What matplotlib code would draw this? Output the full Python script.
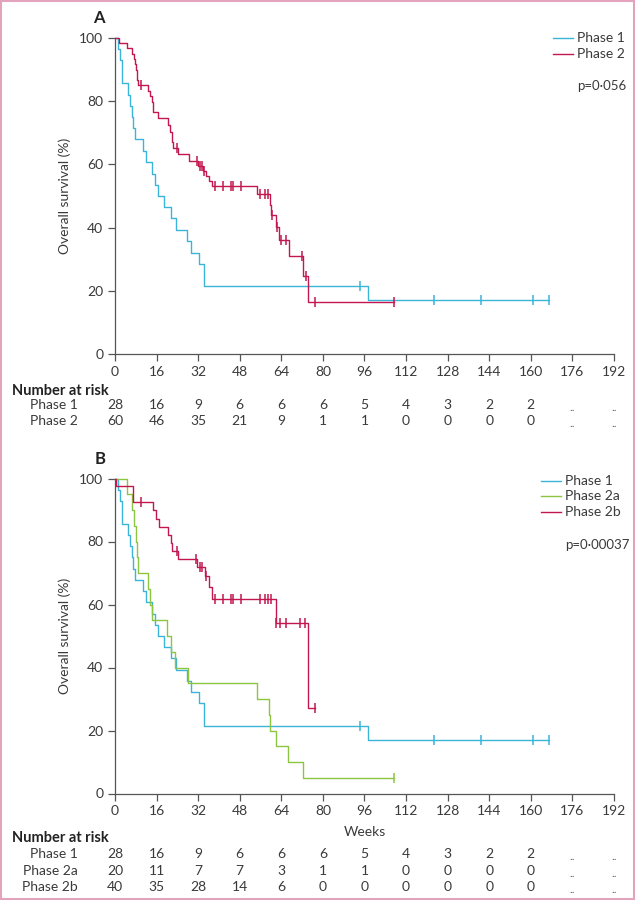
import numpy as np
import matplotlib.pyplot as plt
from matplotlib.patches import Rectangle
from matplotlib.lines import Line2D
from matplotlib.transforms import blended_transform_factory

plt.rcParams['font.family'] = ['Lato', 'DejaVu Sans']

# ---- data (weeks, overall survival %) ----
# Phase 1 (same curve in both panels)
p1_t = [1.3, 1.9, 2.6, 5.1, 5.8, 6.4, 7.0, 7.7, 10.9, 11.9, 14.3, 15.4, 16.4, 18.9,
        21.5, 23.4, 27.8, 29.1, 32.4, 34.3, 97.3]
p1_s = [96.4, 92.9, 85.7, 82.1, 78.6, 75.0, 71.4, 67.9, 64.3, 60.7, 57.1, 53.6, 50.0, 46.4,
        42.9, 39.3, 35.7, 32.1, 28.6, 21.4, 17.1]
p1_cens = [94.1, 122.6, 140.8, 161.0, 167.0]

# Phase 2 (panel A)
p2_t = [1.5, 4.7, 6.7, 7.2, 7.6, 8.0, 8.3, 8.6, 8.9, 12.8, 13.4, 14.1, 14.7, 16.6,
        20.5, 21.1, 21.8, 22.4, 24.3, 28.4, 31.8, 34.0, 35.0, 36.2, 37.2, 54.8,
        59.6, 60.0, 62.1, 63.0, 66.9, 72.3, 74.2]
p2_s = [98.3, 96.7, 95.0, 93.3, 91.7, 90.0, 88.3, 86.7, 85.0, 83.3, 81.6, 79.9, 76.5, 74.8,
        72.5, 70.4, 67.2, 65.1, 63.2, 61.0, 59.6, 58.0, 56.3, 54.7, 53.1, 50.6,
        47.2, 43.9, 40.2, 36.2, 31.0, 24.6, 16.6]
p2_cens = [10.0, 23.7, 31.4, 32.8, 33.4, 34.4, 38.4, 41.6, 44.8, 45.4, 48.4, 55.7, 57.6,
           58.9, 60.6, 62.4, 64.0, 65.9, 71.9, 73.6, 76.8, 107.3]

# Phase 2a (panel B)
p2a_t = [4.5, 6.7, 7.4, 7.9, 8.3, 8.7, 12.8, 13.4, 14.1, 20.1, 21.5, 23.0, 27.9,
         54.8, 59.3, 59.6, 62.1, 66.6, 72.3]
p2a_s = [95, 90, 85, 80, 75, 70, 65, 60, 55, 50, 45, 40, 35,
         30, 25, 20, 15, 10, 5]
p2a_cens = [107.3]

# Phase 2b (panel B)
p2b_t = [0.5, 6.8, 7.0, 14.7, 15.6, 17.0, 20.5, 21.5, 22.1, 24.3, 31.6, 34.8, 36.1, 37.4,
         61.8, 74.2]
p2b_s = [97.5, 95.0, 92.5, 90.0, 87.3, 84.7, 82.0, 79.4, 77.0, 74.5, 71.8, 68.9, 65.4, 61.9,
         54.2, 27.1]
p2b_cens = [10.0, 23.7, 31.2, 32.8, 33.6, 35.2, 38.4, 41.6, 44.8, 45.4, 48.4, 55.7, 57.6,
            58.9, 60.2, 62.1, 63.4, 65.9, 71.0, 73.0, 76.8]

week_ticks = list(range(0, 193, 16))
risk_p1 = ["28", "16", "9", "6", "6", "6", "5", "4", "3", "2", "2", "..", ".."]
risk_p2 = ["60", "46", "35", "21", "9", "1", "1", "0", "0", "0", "0", "..", ".."]
risk_p2a = ["20", "11", "7", "7", "3", "1", "1", "0", "0", "0", "0", "..", ".."]
risk_p2b = ["40", "35", "28", "14", "6", "0", "0", "0", "0", "0", "0", "..", ".."]

c_p1 = "#3ab4d8"
c_p2 = "#c2174f"
c_p2a = "#8cc540"
txt = "#3a3a3a"
axc = "#555555"

W, H = 636, 906
fig = plt.figure(figsize=(W / 100, H / 100), dpi=100)


def fy(py):
    return 1 - py / H


def km(ax, t, s, cens, color, z):
    tt = np.r_[0, t]
    ss = np.r_[100, s]
    tend = max(max(cens), tt[-1])
    ax.step(np.r_[tt, tend], np.r_[ss, ss[-1]], where='post', color=color,
            lw=1.0, clip_on=False, zorder=z)
    idx = np.searchsorted(tt, cens, side='right') - 1
    ax.plot(cens, ss[idx], ls='none', marker='|', ms=7, mew=1.1, color=color,
            clip_on=False, zorder=z)


def style_axis(ax, xlabel=None):
    ax.set_xlim(0, 192)
    ax.set_ylim(0, 100)
    ax.set_xticks(week_ticks)
    ax.set_yticks(range(0, 101, 20))
    for sp in ['top', 'right']:
        ax.spines[sp].set_visible(False)
    for sp in ['left', 'bottom']:
        ax.spines[sp].set_color(axc)
        ax.spines[sp].set_linewidth(0.9)
    ax.tick_params(colors=axc, labelcolor=txt, labelsize=10, length=5, width=0.9)
    ax.set_ylabel("Overall survival (%)", fontsize=10, color=txt, labelpad=6)
    if xlabel:
        ax.set_xlabel(xlabel, fontsize=10, color=txt, labelpad=6)


def risk_table(ax, y_head, rows):
    tr = blended_transform_factory(ax.transData, fig.transFigure)
    fig.text(12 / W, fy(y_head), "Number at risk", fontsize=10.5, fontweight='bold',
             color='#222222', va='center', ha='left')
    for label, vals, py in rows:
        fig.text(78 / W, fy(py), label, fontsize=10, color=txt, va='center', ha='right')
        for wk, v in zip(week_ticks, vals):
            if v == "..":
                ax.text(wk, fy(py) - 0.003, v, transform=tr, fontsize=8.5,
                        color="#666666", ha='center', va='center')
            else:
                ax.text(wk, fy(py), v, transform=tr, fontsize=10,
                        color=txt, ha='center', va='center')


def legend(x0, rows, p_text, p_y):
    for label, color, py in rows:
        fig.add_artist(Line2D([x0 / W, (x0 + 20) / W], [fy(py), fy(py)], color=color, lw=1.0))
        fig.text((x0 + 24) / W, fy(py), label, fontsize=10, color=txt, va='center', ha='left')
    fig.text((x0 + 24) / W, fy(p_y), p_text, fontsize=9.5, color=txt, va='center', ha='left')


# ---- panel A ----
axA = fig.add_axes([115 / W, fy(354), 499 / W, 316 / H])
km(axA, p1_t, p1_s, p1_cens, c_p1, 3)
km(axA, p2_t, p2_s, p2_cens, c_p2, 4)
style_axis(axA)
fig.text(99 / W, fy(18), "A", fontsize=12, fontweight='bold', color='#222222',
         ha='center', va='center')
legend(553, [("Phase 1", c_p1, 38), ("Phase 2", c_p2, 54)], "p=0\u00b7056", 86)
risk_table(axA, 391, [("Phase 1", risk_p1, 405), ("Phase 2", risk_p2, 421)])

# ---- panel B ----
axB = fig.add_axes([115 / W, fy(793.5), 499 / W, 315 / H])
km(axB, p1_t, p1_s, p1_cens, c_p1, 3)
km(axB, p2a_t, p2a_s, p2a_cens, c_p2a, 4)
km(axB, p2b_t, p2b_s, p2b_cens, c_p2, 5)
style_axis(axB, "Weeks")
fig.text(100 / W, fy(459), "B", fontsize=12, fontweight='bold', color='#222222',
         ha='center', va='center')
legend(541, [("Phase 1", c_p1, 481), ("Phase 2a", c_p2a, 496), ("Phase 2b", c_p2, 512)],
       "p=0\u00b700037", 545)
risk_table(axB, 838, [("Phase 1", risk_p1, 854), ("Phase 2a", risk_p2a, 871),
                      ("Phase 2b", risk_p2b, 887)])

# pink frame
fig.add_artist(Rectangle((1 / W, fy(899)), 633 / W, 898 / H, transform=fig.transFigure,
                         fill=False, edgecolor="#e3a3bd", lw=1.5))

fig.savefig("out.png", dpi=100)
